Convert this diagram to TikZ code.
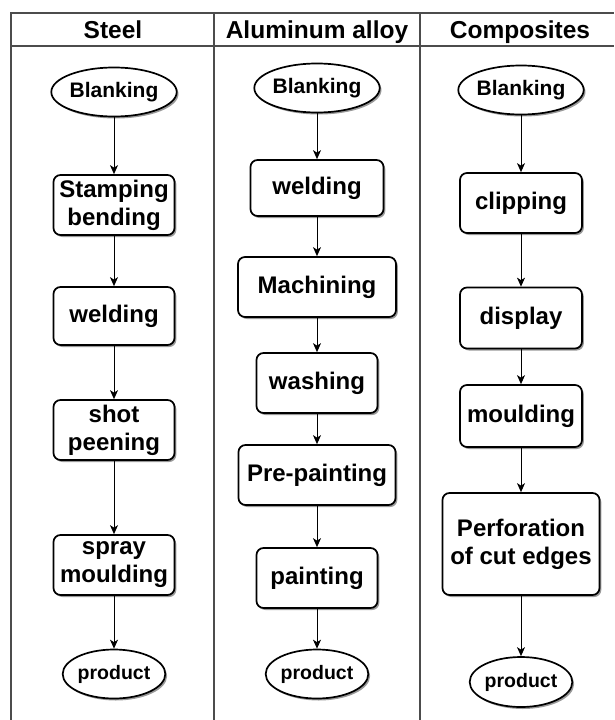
\documentclass[tikz,border=0pt]{standalone}
\usepackage{fontspec}
\setmainfont{Liberation Sans}
\usepackage{tikz}
\usetikzlibrary{arrows.meta, shapes.geometric, shadows}

\begin{document}
\begin{tikzpicture}[x=1pt, y=-1pt,
    box/.style={draw, line width=1.7pt, rounded corners=7pt, fill=white,
        inner sep=0pt, minimum width=121pt, minimum height=60pt, align=center,
        font=\fontsize{24}{28}\selectfont\bfseries,
        drop shadow={shadow xshift=1.8pt, shadow yshift=-2pt, fill=black!40, opacity=1}},
    oval/.style={ellipse, draw, line width=1.7pt, fill=white, inner sep=0pt,
        minimum width=98pt, minimum height=49pt,
        font=\fontsize{19.5}{22}\selectfont\bfseries,
        drop shadow={shadow xshift=1.8pt, shadow yshift=-2pt, fill=black!40, opacity=1}},
    big/.style={font=\fontsize{21}{24}\selectfont\bfseries},
    flow/.style={-{Stealth[length=9pt, width=8pt, inset=2.5pt]}, line width=1pt},
    frame/.style={draw=black!70, line width=1.3pt},
    head/.style={anchor=base, font=\fontsize{24.5}{28}\selectfont\bfseries}]
    \useasboundingbox (0,0) rectangle (614,720);

    % table
    \draw[frame] (11,720) -- (11,13) -- (614,13);
    \draw[frame] (11,46) -- (614,46);
    \draw[frame] (214,13) -- (214,720);
    \draw[frame] (420,13) -- (420,720);

    \node[head] (H1) at (113,38) {Steel};
    \node[head] (H2) at (317,38) {Aluminum alloy};
    \node[head] (H3) at (520,38) {Composites};

    % steel
    \node[oval, big] (S0) at (114,92) {Blanking};
    \node[box] (S1) at (114,205) {Stamping\\bending};
    \node[box, minimum height=58pt] (S2) at (114,316) {welding};
    \node[box] (S3) at (114,430) {shot\\peening};
    \node[box] (S4) at (114,565) {spray\\moulding};
    \node[oval] (S5) at (114,674) {product};

    % aluminum alloy
    \node[oval, big] (A0) at (317,88) {Blanking};
    \node[box, minimum width=133pt, minimum height=56pt] (A1) at (317,188) {welding};
    \node[box, minimum width=158pt] (A2) at (317,287) {Machining};
    \node[box] (A3) at (317,383) {washing};
    \node[box, minimum width=157pt] (A4) at (317,475) {Pre-painting};
    \node[box] (A5) at (317,578) {painting};
    \node[oval] (A6) at (317,674) {product};

    % composites
    \node[oval, big, minimum width=100pt] (C0) at (521,90) {Blanking};
    \node[box, minimum width=122pt] (C1) at (521,203) {clipping};
    \node[box, minimum width=122pt, minimum height=61pt] (C2) at (521,318) {display};
    \node[box, minimum width=122pt, minimum height=62pt] (C3) at (521,416) {moulding};
    \node[box, minimum width=157pt, minimum height=102pt] (C4) at (521,544) {Perforation\\of cut edges};
    \node[oval, minimum width=96pt, minimum height=50pt] (C5) at (521,682) {product};

    \draw[flow] (S0) -- (S1);
    \draw[flow] (S1) -- (S2);
    \draw[flow] (S2) -- (S3);
    \draw[flow] (S3) -- (S4);
    \draw[flow] (S4) -- (S5);

    \draw[flow] (A0) -- (A1);
    \draw[flow] (A1) -- (A2);
    \draw[flow] (A2) -- (A3);
    \draw[flow] (A3) -- (A4);
    \draw[flow] (A4) -- (A5);
    \draw[flow] (A5) -- (A6);

    \draw[flow] (C0) -- (C1);
    \draw[flow] (C1) -- (C2);
    \draw[flow] (C2) -- (C3);
    \draw[flow] (C3) -- (C4);
    \draw[flow] (C4) -- (C5);
\end{tikzpicture}
\end{document}
